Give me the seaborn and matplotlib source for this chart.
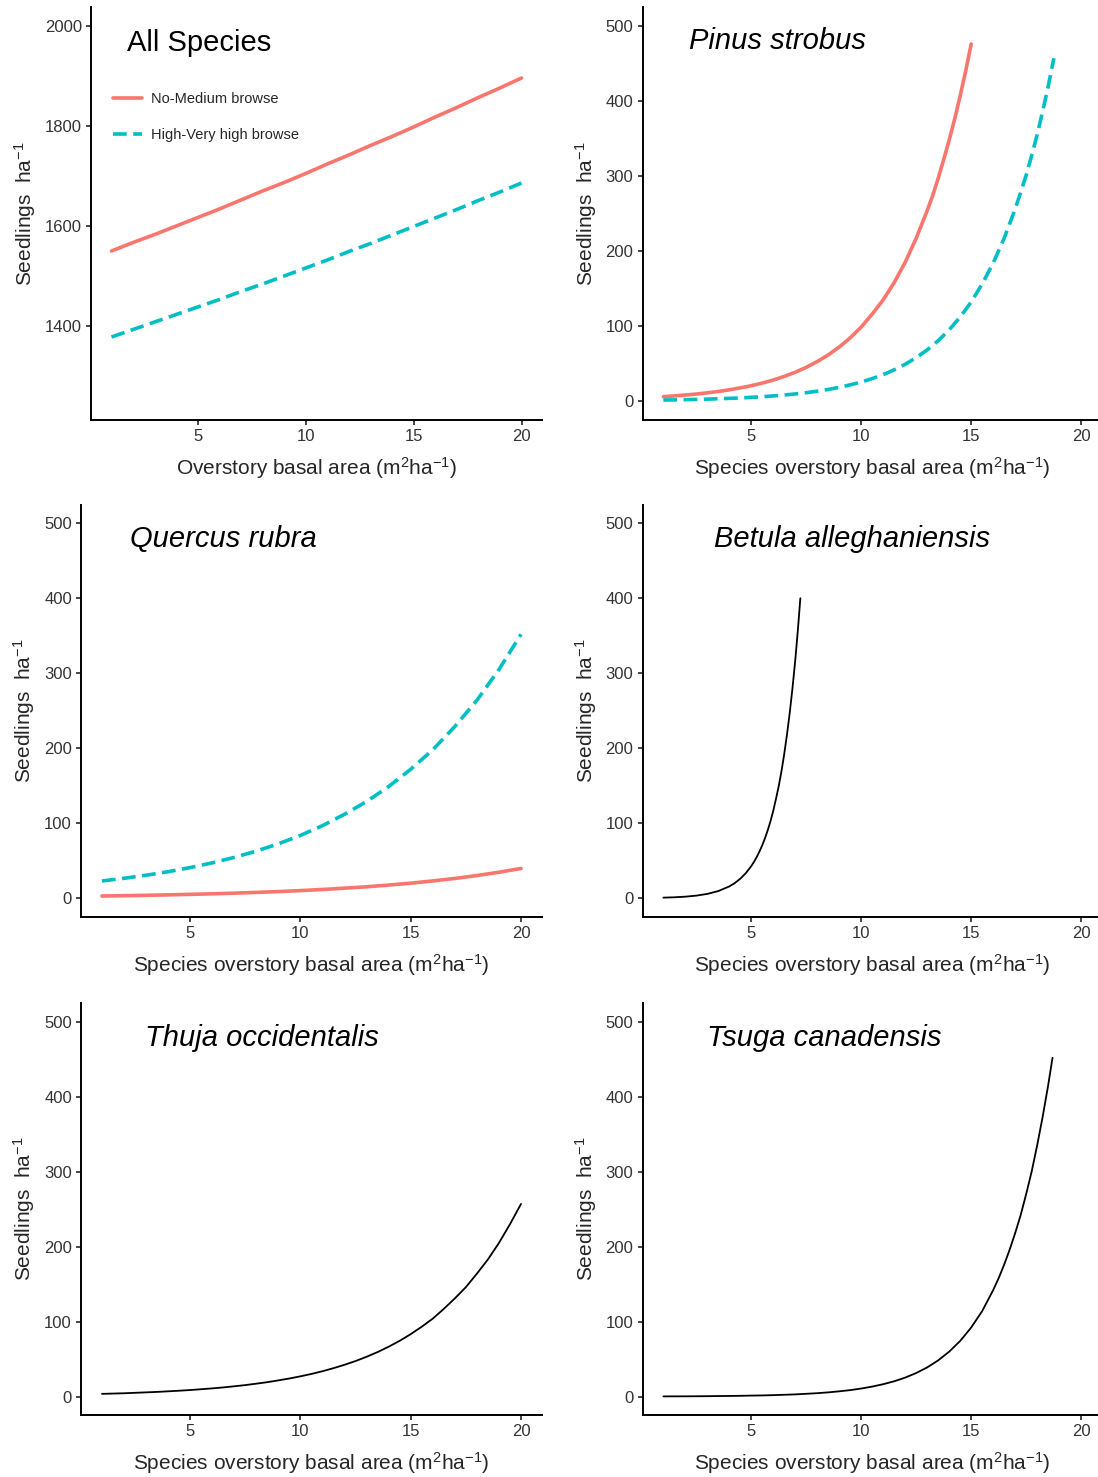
#Seedling density vs overstory basal area, 6 panels
import numpy as np
import matplotlib
matplotlib.use('Agg')
import matplotlib.pyplot as plt
import seaborn as sns
import pandas as pd

# --- All Species (both browse classes) ---
all_x = [1, 2, 3, 4, 5, 6, 7, 8, 9, 10, 11, 12, 13, 14, 15, 16, 17, 18, 19, 20]
all_low = [1550, 1567, 1583, 1600, 1617, 1634, 1652, 1670, 1687, 1705,
           1724, 1742, 1761, 1779, 1798, 1818, 1837, 1857, 1876, 1896]
all_high = [1378, 1393, 1408, 1423, 1438, 1453, 1469, 1484, 1500, 1516,
            1532, 1549, 1565, 1582, 1599, 1616, 1633, 1651, 1668, 1686]

# --- Pinus strobus ---
pin_low_x = [1, 1.5, 2, 2.5, 3, 3.5, 4, 4.5, 5, 5.5, 6, 6.5, 7, 7.5, 8, 8.5,
             9, 9.5, 10, 10.5, 11, 11.5, 12, 12.5, 13, 13.25, 13.5, 13.75, 14,
             14.25, 14.5, 14.75, 15]
pin_low = [5.8, 6.8, 8.0, 9.3, 10.9, 12.7, 14.9, 17.5, 20.4, 23.9, 28.0, 32.8,
           38.4, 44.9, 52.6, 61.5, 72.0, 84.3, 98.7, 116, 135, 158, 185, 217,
           254, 274, 297, 322, 348, 376, 407, 440, 476]
pin_high_x = [1, 1.5, 2, 2.5, 3, 3.5, 4, 4.5, 5, 5.5, 6, 6.5, 7, 7.5, 8, 8.5,
              9, 9.5, 10, 10.5, 11, 11.5, 12, 12.5, 13, 13.5, 14, 14.5, 15,
              15.5, 16, 16.5, 17, 17.25, 17.5, 17.75, 18, 18.25, 18.5, 18.76]
pin_high = [1.3, 1.5, 1.8, 2.1, 2.5, 3.0, 3.5, 4.1, 4.9, 5.7, 6.8, 8.0, 9.4,
            11.1, 13.1, 15.4, 18.2, 21.5, 25.3, 29.9, 35.2, 41.6, 49.0, 57.8,
            68.2, 80.4, 94.9, 112, 132, 156, 184, 217, 256, 278, 301, 327,
            355, 386, 419, 457]

# --- Quercus rubra ---
que_x = [1, 2, 3, 4, 5, 6, 7, 8, 9, 10, 11, 12, 13, 14, 15, 16, 17, 18, 19, 20]
que_low = [3.0, 3.4, 3.9, 4.5, 5.2, 5.9, 6.8, 7.8, 8.9, 10.2,
           11.7, 13.4, 15.3, 17.6, 20.1, 23.1, 26.4, 30.3, 34.7, 39.7]
que_high = [23.0, 26.6, 30.7, 35.4, 40.9, 47.2, 54.5, 62.9, 72.6, 83.8,
            96.8, 112, 129, 149, 172, 198, 229, 264, 305, 352]

# --- Betula alleghaniensis ---
bet_x = [1, 1.5, 2, 2.5, 3, 3.5, 4, 4.25, 4.5, 4.75, 5, 5.125, 5.25, 5.375,
         5.5, 5.625, 5.75, 5.875, 6, 6.125, 6.25, 6.375, 6.5, 6.625, 6.75,
         6.875, 7, 7.115, 7.23]
bet_y = [0.8, 1.3, 2.1, 3.5, 5.8, 9.6, 15.8, 20.3, 26.1, 33.5, 43.0, 48.7,
         55.2, 62.6, 70.9, 80.4, 91.0, 103, 117, 133, 150, 170, 193, 219,
         248, 281, 318, 357, 400]

# --- Thuja occidentalis ---
thu_x = [1, 1.5, 2, 2.5, 3, 3.5, 4, 4.5, 5, 5.5, 6, 6.5, 7, 7.5, 8, 8.5, 9,
         9.5, 10, 10.5, 11, 11.5, 12, 12.5, 13, 13.5, 14, 14.5, 15, 15.5, 16,
         16.5, 17, 17.5, 18, 18.5, 19, 19.5, 20]
thu_y = [3.6, 4.0, 4.4, 5.0, 5.6, 6.2, 7.0, 7.8, 8.7, 9.8, 10.9, 12.2, 13.7,
         15.3, 17.2, 19.2, 21.6, 24.1, 27.0, 30.2, 33.8, 37.9, 42.4, 47.4,
         53.1, 59.4, 66.5, 74.4, 83.3, 93.2, 104, 117, 131, 146, 164, 183,
         205, 230, 257]

# --- Tsuga canadensis ---
tsu_x = [1, 1.5, 2, 2.5, 3, 3.5, 4, 4.5, 5, 5.5, 6, 6.5, 7, 7.5, 8, 8.5, 9,
         9.5, 10, 10.5, 11, 11.5, 12, 12.5, 13, 13.5, 14, 14.5, 15, 15.5, 16,
         16.25, 16.5, 16.75, 17, 17.25, 17.5, 17.75, 18, 18.25, 18.5, 18.7]
tsu_y = [0.2, 0.3, 0.3, 0.4, 0.5, 0.7, 0.8, 1.0, 1.3, 1.5, 1.9, 2.4, 2.9, 3.7,
         4.5, 5.6, 7.0, 8.6, 10.7, 13.3, 16.5, 20.4, 25.3, 31.4, 38.9, 48.3,
         59.9, 74.2, 92.1, 114, 142, 158, 176, 196, 218, 242, 270, 300,
         335, 373, 415, 452]

RED = '#F8766D'
CYAN = '#00BFC4'
W, H = 1098, 1477

sns.set_style("ticks")
plt.rcParams['font.family'] = ['Liberation Sans', 'DejaVu Sans']
plt.rcParams['mathtext.fontset'] = 'custom'
plt.rcParams['mathtext.rm'] = 'Liberation Sans'
plt.rcParams['mathtext.it'] = 'Liberation Sans:italic'

fig = plt.figure(figsize=(W / 100, H / 100), dpi=100)


def make_ax(left, right, top, bottom):
    return fig.add_axes([left / W, 1 - bottom / H, (right - left) / W, (bottom - top) / H])


ax_all = make_ax(91, 542, 7.25, 419.75)
ax_pin = make_ax(642.5, 1102, 7.25, 419.75)
ax_que = make_ax(81, 542, 504.5, 917)
ax_bet = make_ax(642.5, 1102, 504.5, 917)
ax_thu = make_ax(81, 542, 1003, 1415.3)
ax_tsu = make_ax(642.5, 1102, 1003, 1415.3)

dash = (0, (3.8, 1.8))

# All species
sns.lineplot(x=all_x, y=all_low, ax=ax_all, color=RED, lw=2.6, label='No-Medium browse')
sns.lineplot(x=all_x, y=all_high, ax=ax_all, color=CYAN, lw=2.6, linestyle=dash,
             label='High-Very high browse')
ax_all.legend(loc='center left', bbox_to_anchor=(0.048, 0.733), frameon=False,
              borderaxespad=0, borderpad=0, handlelength=2.0, handletextpad=0.6,
              labelspacing=1.5, fontsize=10.5)

sns.lineplot(x=pin_low_x, y=pin_low, ax=ax_pin, color=RED, lw=2.6)
sns.lineplot(x=pin_high_x, y=pin_high, ax=ax_pin, color=CYAN, lw=2.6, linestyle=dash)

sns.lineplot(x=que_x, y=que_high, ax=ax_que, color=CYAN, lw=2.6, linestyle=dash)
sns.lineplot(x=que_x, y=que_low, ax=ax_que, color=RED, lw=2.6)

sns.lineplot(x=bet_x, y=bet_y, ax=ax_bet, color='black', lw=1.3)
sns.lineplot(x=thu_x, y=thu_y, ax=ax_thu, color='black', lw=1.3)
sns.lineplot(x=tsu_x, y=tsu_y, ax=ax_tsu, color='black', lw=1.3)

titles = [(ax_all, 'All Species', 1.71, 1950, 'normal'),
          (ax_pin, 'Pinus strobus', 2.17, 469, 'italic'),
          (ax_que, 'Quercus rubra', 2.28, 468, 'italic'),
          (ax_bet, 'Betula alleghaniensis', 3.31, 468, 'italic'),
          (ax_thu, 'Thuja occidentalis', 2.96, 468, 'italic'),
          (ax_tsu, 'Tsuga canadensis', 2.98, 468, 'italic')]

for ax, txt, tx, ty, st in titles:
    ax.text(tx, ty, txt, fontsize=21, style=st, ha='left', va='baseline', color='black')
    ax.set_xlim(0.05, 20.95)
    if ax is ax_all:
        ax.set_ylim(1212.5, 2037.5)
        ax.set_yticks([1400, 1600, 1800, 2000])
        ax.set_xlabel('Overstory basal area (m$^{2}$ha$^{-1}$)', fontsize=15, labelpad=8)
    else:
        ax.set_ylim(-25, 525)
        ax.set_yticks([0, 100, 200, 300, 400, 500])
        ax.set_xlabel('Species overstory basal area (m$^{2}$ha$^{-1}$)', fontsize=15, labelpad=8)
    ax.set_xticks([5, 10, 15, 20])
    ax.set_ylabel('Seedlings  ha$^{-1}$', fontsize=15, labelpad=5)
    ax.tick_params(labelsize=12, labelcolor='#333333', length=3.5, width=1.2, pad=3)
    for s in ['left', 'bottom']:
        ax.spines[s].set_linewidth(1.4)
        ax.spines[s].set_color('black')
    sns.despine(ax=ax)

plt.savefig('out.png', dpi=100)
